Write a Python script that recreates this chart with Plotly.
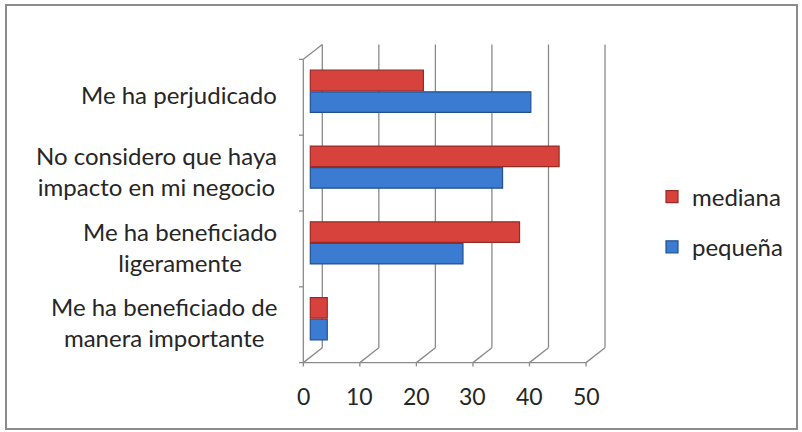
import plotly.graph_objects as go

# ---- data ----
categories = [
    "Me ha beneficiado de<br>manera importante",
    "Me ha beneficiado<br>ligeramente",
    "No considero que haya<br>impacto en mi negocio",
    "Me ha perjudicado",
]
pequena = [3, 27, 34, 39]
mediana = [3, 37, 44, 20]
x_ticks = [0, 10, 20, 30, 40, 50]
x_tick_labels = ["0", "10", "20", "30", "40", "50"]
series_names = ["pequeña", "mediana"]

# ---- layout geometry (pixels) ----
W, H = 802, 432
ML, MR, MT, MB = 299, 192, 42, 64
PW, PH = W - ML - MR, H - MT - MB
XR = [-2, 53]
YR = [-0.65, 3.65]
# 3D-like depth offsets (in data units)
BK_DX, BK_DY = 2.12, 0.118
FR_DX, FR_DY = -1.24, -0.079


def px2px(px):
    return (px - ML) / PW


def py2py(py):
    return (H - MB - py) / PH


FONT = "Lato, 'Open Sans', sans-serif"
TXT = "#262626"
GRID = "#8a8a8a"

fig = go.Figure()
fig.add_trace(go.Bar(
    y=categories, x=pequena, name=series_names[0], orientation="h",
    marker=dict(color="#3b7bd1", line=dict(color="#23508f", width=1.2)),
    legendgroup="p", legendrank=2,
))
fig.add_trace(go.Bar(
    y=categories, x=mediana, name=series_names[1], orientation="h",
    marker=dict(color="#d8423d", line=dict(color="#9a2a26", width=1.2)),
    legendgroup="m", legendrank=1,
))

shapes = []
# outer border
shapes.append(dict(type="rect", xref="paper", yref="paper",
                   x0=px2px(6), x1=px2px(797), y0=py2py(429), y1=py2py(5),
                   line=dict(color="#8c8c8c", width=2), layer="below"))
n = len(categories)
for v in x_ticks:
    # back wall gridline
    shapes.append(dict(type="line", xref="x", yref="y",
                       x0=v + BK_DX, x1=v + BK_DX,
                       y0=-0.5 + BK_DY, y1=n - 0.5 + BK_DY,
                       line=dict(color=GRID, width=1.3), layer="below"))
    # floor slant
    shapes.append(dict(type="line", xref="x", yref="y",
                       x0=v + BK_DX, x1=v + FR_DX,
                       y0=-0.5 + BK_DY, y1=-0.5 + FR_DY,
                       line=dict(color=GRID, width=1.3), layer="below"))
    # small tick below front axis
    shapes.append(dict(type="line", xref="x", yref="y",
                       x0=v + FR_DX, x1=v + FR_DX,
                       y0=-0.5 + FR_DY, y1=-0.5 + FR_DY - 0.05,
                       line=dict(color=GRID, width=1.3), layer="below"))
# front horizontal axis
shapes.append(dict(type="line", xref="x", yref="y",
                   x0=x_ticks[0] + FR_DX, x1=x_ticks[-1] + FR_DX,
                   y0=-0.5 + FR_DY, y1=-0.5 + FR_DY,
                   line=dict(color=GRID, width=1.3), layer="below"))
# front vertical axis
shapes.append(dict(type="line", xref="x", yref="y",
                   x0=FR_DX, x1=FR_DX, y0=-0.5 + FR_DY, y1=n - 0.5 + FR_DY,
                   line=dict(color=GRID, width=1.3), layer="below"))
# top slant of vertical axis
shapes.append(dict(type="line", xref="x", yref="y",
                   x0=FR_DX, x1=BK_DX, y0=n - 0.5 + FR_DY, y1=n - 0.5 + BK_DY,
                   line=dict(color=GRID, width=1.3), layer="below"))
# category boundary ticks on vertical axis
for k in range(n + 1):
    shapes.append(dict(type="line", xref="x", yref="y",
                       x0=FR_DX, x1=FR_DX - 0.9,
                       y0=k - 0.5 + FR_DY, y1=k - 0.5 + FR_DY,
                       line=dict(color=GRID, width=1.3), layer="below"))

annotations = []
for v, lab in zip(x_ticks, x_tick_labels):
    annotations.append(dict(xref="x", yref="paper", x=v + FR_DX, y=py2py(396),
                            text=lab, showarrow=False, xanchor="center",
                            yanchor="middle",
                            font=dict(family=FONT, size=23, color=TXT)))
for i, c in enumerate(categories):
    annotations.append(dict(xref="paper", yref="y", x=px2px(279), y=i + FR_DY + 0.03,
                            text=c, showarrow=False, xanchor="right",
                            yanchor="middle", align="center",
                            font=dict(family=FONT, size=24, color=TXT)))

fig.update_layout(
    width=W, height=H, autosize=False,
    margin=dict(l=ML, r=MR, t=MT, b=MB),
    paper_bgcolor="white", plot_bgcolor="rgba(0,0,0,0)",
    barmode="group", bargap=0.43, bargroupgap=0.05,
    font=dict(family=FONT, color=TXT),
    xaxis=dict(range=XR, showgrid=False, zeroline=False, showticklabels=False,
               showline=False, ticks=""),
    yaxis=dict(range=YR, type="category", categoryorder="array",
               categoryarray=categories, showgrid=False, zeroline=False,
               showticklabels=False, showline=False, ticks=""),
    legend=dict(x=px2px(652), y=py2py(222), xanchor="left", yanchor="middle",
                traceorder="grouped", tracegroupgap=16,
                font=dict(family=FONT, size=24, color=TXT),
                bgcolor="rgba(0,0,0,0)"),
    shapes=shapes, annotations=annotations,
)

fig.write_html(
    "out.html",
    config={"displayModeBar": False},
    post_script="document.body.style.margin='0';document.body.style.padding='0';",
)
